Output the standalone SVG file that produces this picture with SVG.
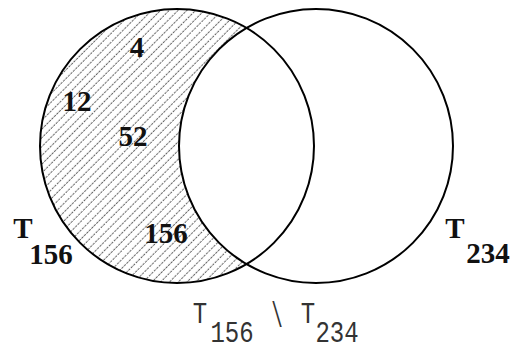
<svg xmlns="http://www.w3.org/2000/svg" width="516" height="352" viewBox="0 0 516 352">
<style>
.c{fill:none;stroke:#000;stroke-width:2}
.n{font-family:"Liberation Serif",serif;font-weight:bold;font-size:29px;fill:#111;text-anchor:middle}
.b{font-family:"Liberation Mono",monospace;font-size:24px;fill:#333;text-anchor:middle}
</style>
<defs>
<pattern id="hatch" patternUnits="userSpaceOnUse" width="6.2" height="7" patternTransform="rotate(45)">
<line x1="3" y1="0" x2="3" y2="7" stroke="#222" stroke-width="0.75" stroke-dasharray="2.5 1"/>
</pattern>
</defs>
<g id="region-diff">
<path d="M246.5 27.9 A137 137 0 1 0 246.5 264.1 A137 137 0 0 1 246.5 27.9 Z" fill="url(#hatch)"/>
</g>
<g id="set-T156">
<circle class="c" cx="177" cy="146" r="137"/>
<text class="n" x="23" y="238">T</text>
<text class="n" x="51" y="264">156</text>
</g>
<g id="set-T234">
<circle class="c" cx="316" cy="146" r="137"/>
<text class="n" x="455" y="238">T</text>
<text class="n" x="488" y="263">234</text>
</g>
<g id="values">
<text class="n" x="137" y="57">4</text>
<text class="n" x="77" y="111">12</text>
<text class="n" x="133" y="146">52</text>
<text class="n" x="166" y="243">156</text>
</g>
<g id="caption">
<text class="b" transform="translate(200 323) scale(1 1.25)">T</text>
<text class="b" transform="translate(232 342) scale(1 1.2)">156</text>
<text class="b" transform="translate(277 327) scale(0.8 1.45)">\</text>
<text class="b" transform="translate(308 323) scale(1 1.25)">T</text>
<text class="b" transform="translate(337 342) scale(1 1.2)">234</text>
</g>
</svg>
